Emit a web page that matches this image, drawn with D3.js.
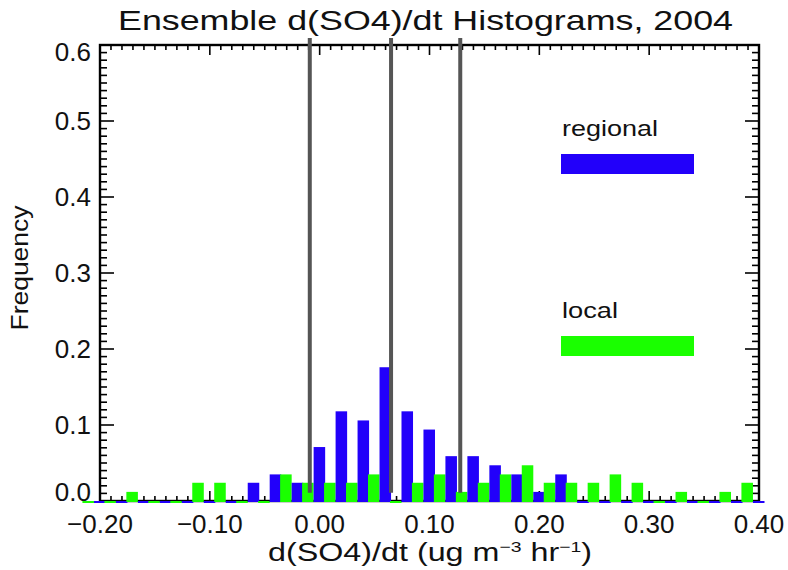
<!DOCTYPE html>
<html><head><meta charset="utf-8">
<script src="https://cdn.jsdelivr.net/npm/d3@7"></script>
<style>html,body{margin:0;padding:0;background:#fff;}</style>
</head><body>
<svg id="chart" width="788" height="570"></svg>
<script>
// ---- data ----
const binCenters = [-0.20,-0.18,-0.16,-0.14,-0.12,-0.10,-0.08,-0.06,-0.04,-0.02,0.00,0.02,0.04,0.06,0.08,0.10,0.12,0.14,0.16,0.18,0.20,0.22,0.24,0.26,0.28,0.30,0.32,0.34,0.36,0.38,0.40];
const regional = [0,0,0,0,0,0,0,0.024,0.035,0.024,0.071,0.118,0.106,0.176,0.118,0.094,0.059,0.059,0.047,0.035,0.012,0.035,0,0,0,0,0,0,0,0,0];
const local    = [0,0,0.012,0,0,0.024,0.024,0,0,0.035,0.024,0.024,0.024,0.035,0,0.024,0.035,0.012,0.024,0.035,0.047,0.024,0.024,0.024,0.035,0.024,0,0.012,0,0.012,0.024];
const markers = [-0.009, 0.065, 0.128];
const xTicks = [-0.20,-0.10,0.00,0.10,0.20,0.30,0.40];
const xTickLabels = ["\u22120.20","\u22120.10","0.00","0.10","0.20","0.30","0.40"];
const yTicks = [0.0,0.1,0.2,0.3,0.4,0.5,0.6];
const yTickLabels = ["0.0","0.1","0.2","0.3","0.4","0.5","0.6"];
const seriesNames = ["regional","local"];
const seriesColors = ["#2200fa","#1aff00"];
const titleText = "Ensemble d(SO4)/dt Histograms, 2004";

// ---- layout ----
const L = 100, R = 759, T = 45, B = 501;
const svg = d3.select("#chart");
const x = d3.scaleLinear().domain([-0.2, 0.4]).range([L, R]);
const y = d3.scaleLinear().domain([0, 0.6]).range([B, T]);
const font = "'Liberation Sans', Arial, sans-serif";

// ticks (inward)
const g = svg.append("g").attr("stroke", "#000").attr("stroke-width", 1.6);
const xMinor = d3.range(-20, 41).map(i => i / 100);
xMinor.forEach(v => {
  const major = Math.abs(Math.round(v * 100) % 10) === 0;
  const len = major ? 10 : 5;
  g.append("line").attr("x1", x(v)).attr("x2", x(v)).attr("y1", B).attr("y2", B - len);
  g.append("line").attr("x1", x(v)).attr("x2", x(v)).attr("y1", T).attr("y2", T + len);
});
const yMinor = d3.range(0, 61).map(i => i / 100);
yMinor.forEach(v => {
  const major = Math.round(v * 100) % 10 === 0;
  const len = major ? 14 : 7;
  g.append("line").attr("x1", L).attr("x2", L + len).attr("y1", y(v)).attr("y2", y(v));
  g.append("line").attr("x1", R).attr("x2", R - len).attr("y1", y(v)).attr("y2", y(v));
});
// frame
svg.append("rect").attr("x", L).attr("y", T).attr("width", R - L).attr("height", B - T)
  .attr("fill", "none").attr("stroke", "#000").attr("stroke-width", 2.4);

// bars
const bw = 0.0105;
const barData = [];
binCenters.forEach((c, i) => {
  barData.push({x0: c - 0.016, v: local[i], s: 1});
  barData.push({x0: c - 0.0055, v: regional[i], s: 0});
});
svg.append("g").selectAll("rect").data(barData).join("rect")
  .attr("x", d => x(d.x0))
  .attr("width", d => x(d.x0 + bw) - x(d.x0))
  .attr("y", d => y(d.v))
  .attr("height", d => Math.max(B - y(d.v) + 1, 2))
  .attr("fill", d => seriesColors[d.s]);

// marker lines
svg.append("g").selectAll("line").data(markers).join("line")
  .attr("x1", d => x(d)).attr("x2", d => x(d))
  .attr("y1", T - 7).attr("y2", y(0.011))
  .attr("stroke", "#555").attr("stroke-width", 4);

// tick labels
svg.append("g").selectAll("text").data(xTicks).join("text")
  .attr("x", d => x(d)).attr("y", 533)
  .attr("text-anchor", "middle").attr("font-family", font).attr("font-size", 26)
  .attr("fill", "#111")
  .text((d, i) => xTickLabels[i]);
svg.append("g").selectAll("text").data(yTicks).join("text")
  .attr("x", 91).attr("y", d => Math.min(Math.max(y(d), T + 7), B - 9) + 9)
  .attr("text-anchor", "end").attr("font-family", font).attr("font-size", 26)
  .attr("fill", "#111")
  .text((d, i) => yTickLabels[i]);

// title
svg.append("text").attr("x", 118).attr("y", 30)
  .attr("font-family", font).attr("font-size", 28).attr("fill", "#111")
  .attr("textLength", 615).attr("lengthAdjust", "spacingAndGlyphs")
  .text(titleText);

// x axis title
const xt = svg.append("text").attr("x", 268).attr("y", 561)
  .attr("font-family", font).attr("font-size", 25).attr("fill", "#111")
  .attr("textLength", 324).attr("lengthAdjust", "spacingAndGlyphs");
xt.append("tspan").text("d(SO4)/dt (ug m");
xt.append("tspan").attr("dy", -9).attr("font-size", 15).text("\u22123");
xt.append("tspan").attr("dy", 9).text(" hr");
xt.append("tspan").attr("dy", -9).attr("font-size", 15).text("\u22121");
xt.append("tspan").attr("dy", 9).text(")");

// y axis title
svg.append("text").attr("transform", "translate(28,268) rotate(-90)")
  .attr("text-anchor", "middle").attr("font-family", font).attr("font-size", 23)
  .attr("fill", "#111")
  .attr("textLength", 125).attr("lengthAdjust", "spacingAndGlyphs")
  .text("Frequency");

// legend
const legY = [136, 318];
const legW = [96, 56];
seriesNames.forEach((n, i) => {
  svg.append("text").attr("x", 562).attr("y", legY[i])
    .attr("font-family", font).attr("font-size", 22).attr("fill", "#111")
    .attr("textLength", legW[i]).attr("lengthAdjust", "spacingAndGlyphs")
    .text(n);
  svg.append("rect").attr("x", 561).attr("y", legY[i] + 18).attr("width", 133).attr("height", 20)
    .attr("fill", seriesColors[i]);
});
</script>
</body></html>
